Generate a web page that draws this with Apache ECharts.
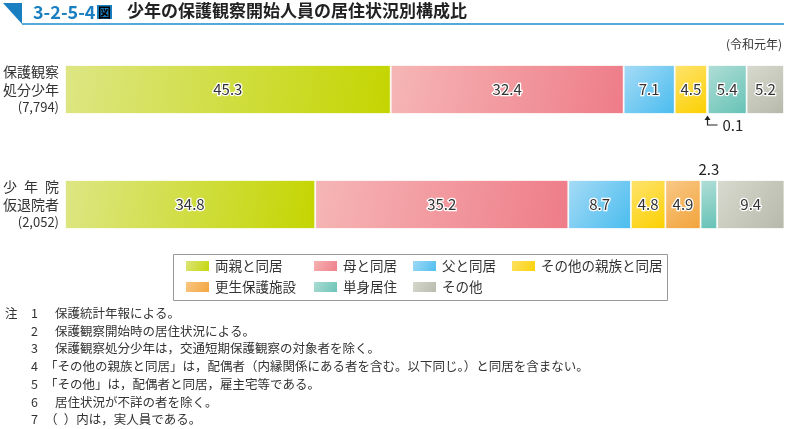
<!DOCTYPE html>
<html>
<head>
<meta charset="utf-8">
<script src="https://cdn.jsdelivr.net/npm/echarts@6/dist/echarts.min.js"></script>
<style>
html,body{margin:0;padding:0;background:#fff;}
#main{width:786px;height:429px;}
</style>
</head>
<body>
<div id="main"></div>
<script>
// ---- data ----
var categories = ['保護観察\n処分少年', '少\u2002年\u2002院\n仮退院者'];
var counts = ['(7,794)', '(2,052)'];
var seriesNames = ['両親と同居', '母と同居', '父と同居', 'その他の親族と同居', '更生保護施設', '単身居住', 'その他'];
var ryoshin = [45.3, 34.8];
var haha = [32.4, 35.2];
var chichi = [7.1, 8.7];
var shinzoku = [4.5, 4.8];
var kosei = [0.1, 4.9];
var tanshin = [5.4, 2.3];
var sonota = [5.2, 9.4];
var seriesValues = [ryoshin, haha, chichi, shinzoku, kosei, tanshin, sonota];
var yearLabel = '(令和元年)';
var notes = [
  ['1', '保護統計年報による。'],
  ['2', '保護観察開始時の居住状況による。'],
  ['3', '保護観察処分少年は，交通短期保護観察の対象者を除く。'],
  ['4', '「その他の親族と同居」は，配偶者（内縁関係にある者を含む。以下同じ。）と同居を含まない。'],
  ['5', '「その他」は，配偶者と同居，雇主宅等である。'],
  ['6', '居住状況が不詳の者を除く。'],
  ['7', '（\u2002）内は，実人員である。']
];

var gradColors = [
  ['#dde684', '#c4d500'],
  ['#f6b6b6', '#ee7c88'],
  ['#a6dbf6', '#49bcee'],
  ['#ffe36e', '#fbd000'],
  ['#f9c988', '#f2a33a'],
  ['#b0ded6', '#66c2b6'],
  ['#d8dacf', '#b6b9aa']
];

var FONT = '"Noto Sans CJK JP", "Noto Sans", sans-serif';
var chart = echarts.init(document.getElementById('main'), null, {renderer: 'canvas'});

function grad(i) {
  return new echarts.graphic.LinearGradient(0, 0, 1, 1, [
    {offset: 0, color: gradColors[i][0]},
    {offset: 1, color: gradColors[i][1]}
  ]);
}

var series = seriesNames.map(function (name, i) {
  return {
    name: name,
    type: 'bar',
    stack: 'total',
    barWidth: 49,
    itemStyle: {color: grad(i), borderColor: '#fff', borderWidth: 0.8},
    label: {
      show: true,
      position: 'inside',
      fontFamily: FONT,
      fontSize: 15,
      color: '#333',
      textBorderColor: '#fff',
      textBorderWidth: 2.5,
      formatter: function (p) { return p.value.toFixed(1); }
    },
    data: seriesValues[i].map(function (v, j) {
      var item = {value: v};
      if (v < 1) {
        item.label = {show: false};
      } else if (v < 3) {
        item.label = {show: true, position: 'top', distance: 3, textBorderWidth: 0, color: '#222'};
      }
      return item;
    })
  };
});

var legendCols = [
  {left: 184, data: ['両親と同居', '更生保護施設']},
  {left: 312, data: ['母と同居', '単身居住']},
  {left: 411, data: ['父と同居', 'その他']},
  {left: 510, data: ['その他の親族と同居']}
];
var legends = legendCols.map(function (c) {
  return {
    left: c.left, top: 259, orient: 'vertical', padding: 0,
    itemWidth: 25, itemHeight: 12, itemGap: 7,
    icon: 'rect',
    textStyle: {fontFamily: FONT, fontSize: 13.5, color: '#333'},
    selectedMode: false,
    data: c.data
  };
});

var graphics = [
  {type: 'polygon', shape: {points: [[3, 3], [22, 3], [22, 24]]}, style: {fill: '#1a7fc0'}},
  {type: 'line', shape: {x1: 22, y1: 24, x2: 784, y2: 24}, style: {stroke: '#1a8ccc', lineWidth: 1.5}},
  {type: 'text', left: 33, top: 3, style: {text: '3-2-5-4', font: 'bold 18px ' + FONT, fill: '#1a7fc0'}},
  {type: 'text', left: 97, top: 5, style: {
    text: '{b|図}', rich: {b: {backgroundColor: '#1a7fc0', color: '#fff', fontFamily: FONT, fontWeight: 'bold', fontSize: 13, padding: [1, 1, 0, 1]}}
  }},
  {type: 'text', left: 127, top: 2, style: {text: '少年の保護観察開始人員の居住状況別構成比', font: 'bold 17px ' + FONT, fill: '#222'}},
  {type: 'text', right: 4, top: 38, style: {text: yearLabel, font: '12px ' + FONT, fill: '#333'}},
  {type: 'rect', shape: {x: 173.5, y: 254.5, width: 494, height: 46}, style: {fill: 'none', stroke: '#999', lineWidth: 1}},
  {type: 'text', left: 5, top: 307, style: {text: '注', font: '12.5px ' + FONT, fill: '#333'}}
];
notes.forEach(function (n, k) {
  var y = 307 + k * 17.7;
  graphics.push({type: 'text', left: 31, top: y, style: {text: n[0], font: '12.5px ' + FONT, fill: '#333'}});
  var startsBracket = /^[「（]/.test(n[1]);
  graphics.push({type: 'text', left: startsBracket ? 45 : 55, top: y, style: {text: n[1], font: '12.5px ' + FONT, fill: '#333'}});
});

chart.setOption({
  animation: false,
  textStyle: {fontFamily: FONT},
  grid: {left: 63, right: 2, top: 32, bottom: 429 - 262, containLabel: false},
  xAxis: {type: 'value', min: 0, max: 100, show: false},
  yAxis: {
    type: 'category', inverse: true, data: categories,
    axisLine: {show: false}, axisTick: {show: false},
    axisLabel: {
      margin: 6, align: 'right',
      formatter: function (v, idx) {
        return '{a|' + v.split('\n').join('}\n{a|') + '}\n{n|' + counts[idx] + '}';
      },
      rich: {
        a: {fontFamily: FONT, fontSize: 14, color: '#333', lineHeight: 18, align: 'right'},
        n: {fontFamily: FONT, fontSize: 13, color: '#333', lineHeight: 17, align: 'right'}
      }
    }
  },
  legend: legends,
  series: series,
  graphic: graphics
});

// annotation for the tiny 0.1 segment (row 1, 更生保護施設)
var idxK = seriesNames.indexOf('更生保護施設');
var cum = 0;
for (var s = 0; s < idxK; s++) cum += seriesValues[s][0];
var p = chart.convertToPixel({xAxisIndex: 0, yAxisIndex: 0}, [cum + kosei[0] / 2, 0]);
var barBottom = p[1] + 24.5;
var ax = Math.round(p[0]) + 0.5;
graphics.push(
  {type: 'polyline', shape: {points: [[ax, barBottom + 4], [ax, barBottom + 11], [ax + 10, barBottom + 11]]}, style: {stroke: '#222', lineWidth: 1.2, fill: 'none'}},
  {type: 'polygon', shape: {points: [[ax - 3, barBottom + 6], [ax + 3, barBottom + 6], [ax, barBottom + 1.5]]}, style: {fill: '#222'}},
  {type: 'text', left: ax + 15, top: barBottom + 4, style: {text: kosei[0].toFixed(1), font: '15px ' + FONT, fill: '#222'}}
);
chart.setOption({graphic: graphics}, {replaceMerge: ['graphic']});
</script>
</body>
</html>
